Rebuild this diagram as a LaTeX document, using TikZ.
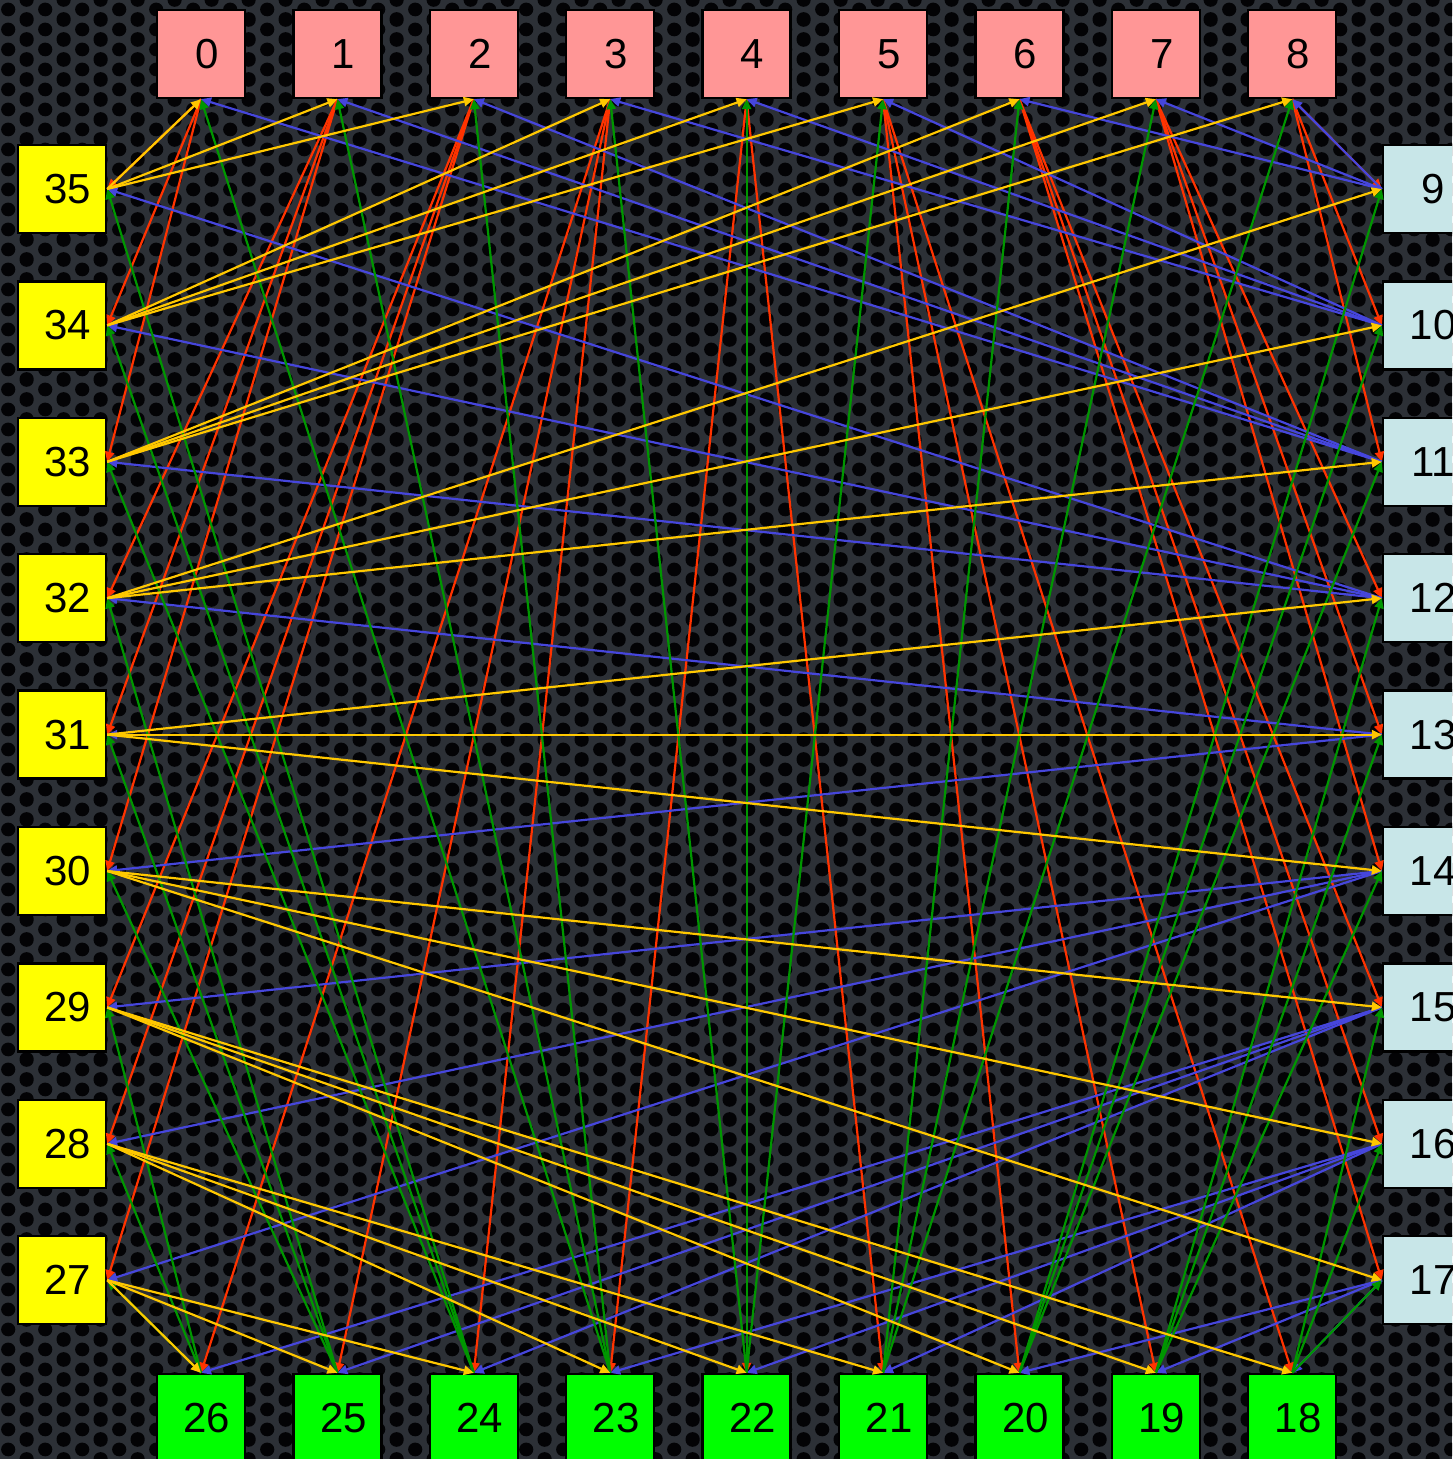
\documentclass[tikz,border=0pt]{standalone}
\usepackage{fontspec}
\setmainfont{Liberation Sans}
\usetikzlibrary{arrows.meta,patterns.meta}
\definecolor{metal}{RGB}{44,48,54}
\definecolor{hole}{RGB}{3,3,5}
\definecolor{ered}{RGB}{255,51,0}
\definecolor{eyel}{RGB}{255,200,0}
\definecolor{eblu}{RGB}{70,70,220}
\definecolor{egrn}{RGB}{0,150,0}
\definecolor{ftop}{RGB}{255,150,150}
\definecolor{fright}{RGB}{200,230,232}
\definecolor{fbot}{RGB}{0,255,0}
\definecolor{fleft}{RGB}{255,255,0}
\tikzdeclarepattern{
  name=holes,
  type=colored,
  bottom left={(0pt,0pt)},
  top right={(18.7pt,10pt)},
  tile size={(18.7pt,10pt)},
  code={
    \fill[hole] (4.675pt,5pt) circle (3.6pt);
    \fill[hole] (14.025pt,0pt) circle (3.6pt);
    \fill[hole] (14.025pt,10pt) circle (3.6pt);
  }
}
\tikzset{
  box/.style={draw=black, line width=1.2pt, minimum width=44pt, minimum height=44pt,
    inner sep=0pt, font=\fontsize{21pt}{24pt}\selectfont},
  topbox/.style={box, fill=ftop},
  rightbox/.style={box, fill=fright},
  botbox/.style={box, fill=fbot},
  leftbox/.style={box, fill=fleft},
  ebase/.style={line width=1.1pt, -{Triangle[length=5pt,width=4.6pt]}},
  ec0/.style={ebase, draw=ered},
  ec1/.style={ebase, draw=eblu},
  ec2/.style={ebase, draw=egrn},
  ec3/.style={ebase, draw=eyel},
}
\newcommand\lab[1]{\hspace*{6pt}#1}
\begin{document}
\begin{tikzpicture}[x=0.5pt,y=-0.5pt]
\useasboundingbox (0,0) rectangle (1452,1459);
\clip (0,0) rectangle (1452,1459);
\fill[metal] (0,0) rectangle (1452,1459);
\fill[pattern=holes] (0,0) rectangle (1452,1459);
% nodes
\foreach \k in {0,...,8} {
  \pgfmathtruncatemacro\mr{9+\k}
  \pgfmathtruncatemacro\mb{26-\k}
  \pgfmathtruncatemacro\ml{35-\k}
  \node[topbox]   (n\k)  at ({201+136.4*\k},54)   {\lab{\k}};
  \node[rightbox] (n\mr) at (1427,{189+136.4*\k}) {\lab{\mr}};
  \node[botbox]   (n\mb) at ({201+136.4*\k},1418) {\lab{\mb}};
  \node[leftbox]  (n\ml) at (62,{189+136.4*\k})   {\lab{\ml}};
}
% edges: i -> -3i-r (mod 36), r = 1,2,3
\foreach \i in {0,...,35} {
  \pgfmathtruncatemacro\s{int(\i/9)}
  \edef\As{\ifcase\s south\or west\or north\or east\fi}
  \foreach \r in {1,2,3} {
    \pgfmathtruncatemacro\j{mod(144-3*\i-\r,36)}
    \pgfmathtruncatemacro\t{int(\j/9)}
    \edef\At{\ifcase\t south\or west\or north\or east\fi}
    \draw[ec\s] (n\i.\As) -- (n\j.\At);
  }
}
\end{tikzpicture}
\end{document}
